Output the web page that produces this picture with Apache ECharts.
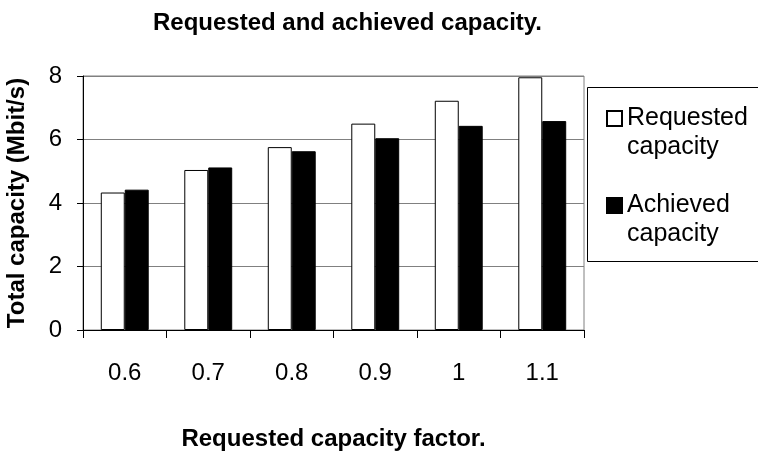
<!DOCTYPE html>
<html>
<head>
<meta charset="utf-8">
<script src="https://cdn.jsdelivr.net/npm/echarts@6/dist/echarts.min.js"></script>
<style>
  html, body { margin: 0; padding: 0; background: #fff; }
  #chart { width: 758px; height: 452px; }
</style>
</head>
<body>
<div id="chart"></div>
<script>
// Capacity factors on the x axis
const categories = ['0.6', '0.7', '0.8', '0.9', '1', '1.1'];
// Total capacity in Mbit/s
const requestedCapacity = [4.33, 5.04, 5.76, 6.50, 7.22, 7.96];
const achievedCapacity = [4.42, 5.12, 5.63, 6.04, 6.43, 6.58];
// Value axis ticks
const yTicks = [0, 2, 4, 6, 8];

const FONT = '"Liberation Sans", Arial, sans-serif';

// Legend marker: a 15px square sitting beside the first of two text lines
// (the extra move-to points only stretch the marker's box to the text height)
const LEGEND_ICON = 'path://M0,0M0,7H15V22H0Z M15,58';

const chart = echarts.init(document.getElementById('chart'), null, { renderer: 'canvas' });

chart.setOption({
  animation: false,
  backgroundColor: '#ffffff',
  title: {
    text: 'Requested and achieved capacity.',
    left: 153,
    top: 11,
    padding: 0,
    textStyle: { fontFamily: FONT, fontSize: 24, fontWeight: 'bold', color: '#000' }
  },
  grid: {
    left: 83,
    right: 174,
    top: 76,
    bottom: 122,
    outerBoundsMode: 'none',
    containLabel: false,
    show: true,
    backgroundColor: '#ffffff',
    borderColor: '#808080',
    borderWidth: 1
  },
  legend: {
    orient: 'vertical',
    left: 606,
    top: 103,
    padding: 0,
    itemGap: 27,
    itemWidth: 15,
    itemHeight: 58,
    itemTextGap: 16,
    icon: LEGEND_ICON,
    formatter: function (name) { return name.replace(' ', '\n'); },
    textStyle: {
      fontFamily: FONT,
      fontSize: 25,
      lineHeight: 29,
      color: '#000'
    },
    data: ['Requested capacity', 'Achieved capacity']
  },
  graphic: [{
    type: 'rect',
    z: 0,
    shape: { x: 587.5, y: 87.5, width: 200, height: 174 },
    style: { fill: 'none', stroke: '#000', lineWidth: 1 }
  }],
  xAxis: {
    type: 'category',
    data: categories,
    name: 'Requested capacity factor.',
    nameLocation: 'middle',
    nameGap: 97,
    nameTextStyle: { fontFamily: FONT, fontSize: 24, fontWeight: 'bold', color: '#000', verticalAlign: 'top' },
    axisLine: { show: true, lineStyle: { color: '#000', width: 1 } },
    axisTick: { show: true, alignWithLabel: false, length: 8, lineStyle: { color: '#000' } },
    axisLabel: { fontFamily: FONT, fontSize: 24, color: '#000', margin: 31 },
    splitLine: { show: false }
  },
  yAxis: {
    type: 'value',
    min: yTicks[0],
    max: yTicks[yTicks.length - 1],
    interval: yTicks[1] - yTicks[0],
    name: 'Total capacity (Mbit/s)',
    nameLocation: 'middle',
    nameGap: 54,
    nameTextStyle: { fontFamily: FONT, fontSize: 24, fontWeight: 'bold', color: '#000' },
    axisLine: { show: true, lineStyle: { color: '#000', width: 1 } },
    axisTick: { show: true, inside: false, length: 6, lineStyle: { color: '#000' } },
    axisLabel: { fontFamily: FONT, fontSize: 24, color: '#000', margin: 21 },
    splitLine: { show: true, lineStyle: { color: '#808080', width: 1 } }
  },
  series: [
    {
      name: 'Requested capacity',
      type: 'bar',
      data: requestedCapacity,
      barGap: '0%',
      barCategoryGap: '42.6%',
      itemStyle: { color: '#ffffff', borderColor: '#000', borderWidth: 1 }
    },
    {
      name: 'Achieved capacity',
      type: 'bar',
      data: achievedCapacity,
      itemStyle: { color: '#000000', borderColor: '#000', borderWidth: 1 }
    }
  ]
});
</script>
</body>
</html>
